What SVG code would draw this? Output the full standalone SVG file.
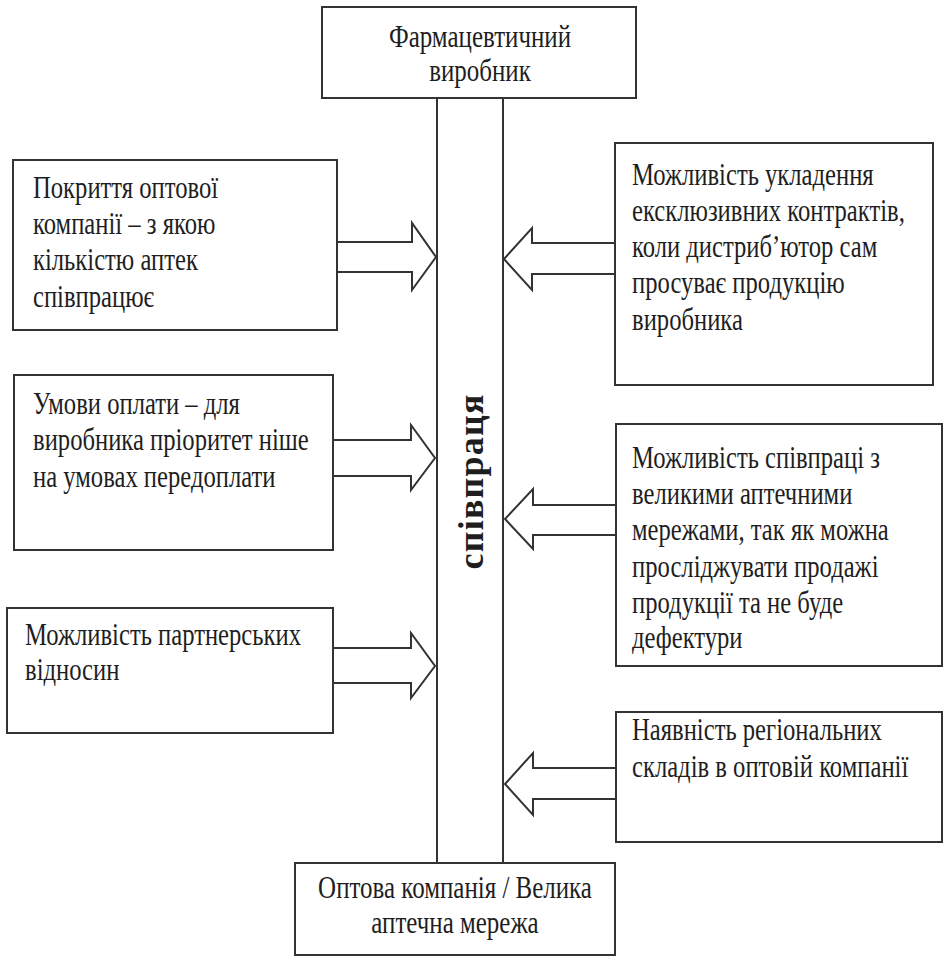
<svg xmlns="http://www.w3.org/2000/svg" width="945" height="957" viewBox="0 0 945 957">
<style>
.box{fill:#fff;stroke:#333;stroke-width:2}
.ln{fill:none;stroke:#333;stroke-width:2}
.arr{fill:#fff;stroke:#333;stroke-width:2;stroke-linejoin:miter}
.t{font-family:"Liberation Serif","Times New Roman",serif;font-size:32px;fill:#1e1e1e}
.c{text-anchor:middle}
.v{font-family:"Liberation Serif","Times New Roman",serif;font-size:36px;font-weight:bold;fill:#1e1e1e;text-anchor:middle}
</style>
<rect width="945" height="957" fill="#fff"/>
<g id="connectors">
<line class="ln" x1="437" y1="98" x2="437" y2="863"/>
<line class="ln" x1="503" y1="98" x2="503" y2="863"/>
<polygon class="arr" points="333,242 412,242 412,223 436,257 412,290 412,272 333,272"/>
<polygon class="arr" points="333,440 411,440 411,425 435,458 411,490 411,476 333,476"/>
<polygon class="arr" points="333,648 411,648 411,633 435,666 411,698 411,683 333,683"/>
<polygon class="arr" points="615,243 532,243 532,228 504,259 532,290 532,274 615,274"/>
<polygon class="arr" points="616,505 533,505 533,489 505,519 533,549 533,535 616,535"/>
<polygon class="arr" points="616,768 533,768 533,753 505,784 533,815 533,799 616,799"/>
<text class="v" transform="translate(483,482) rotate(-90)" textLength="175" lengthAdjust="spacing">співпраця</text>
</g>
<g id="top">
<rect class="box" x="322" y="7" width="314" height="91"/>
<text class="t c" transform="matrix(0.78 0 0 1 480 0)"><tspan x="0" y="47">Фармацевтичний</tspan><tspan x="0" y="81">виробник</tspan></text>
</g>
<g id="bottom">
<rect class="box" x="295" y="863" width="320" height="92"/>
<text class="t c" transform="matrix(0.78 0 0 1 455 0)"><tspan x="0" y="898">Оптова компанія / Велика</tspan><tspan x="0" y="933">аптечна мережа</tspan></text>
</g>
<g id="left1">
<rect class="box" x="13" y="160" width="324" height="170"/>
<text class="t" transform="matrix(0.77 0 0 1 33 0)"><tspan x="0" y="198">Покриття оптової</tspan><tspan x="0" y="234">компанії – з якою</tspan><tspan x="0" y="270">кількістю аптек</tspan><tspan x="0" y="307">співпрацює</tspan></text>
</g>
<g id="left2">
<rect class="box" x="14" y="375" width="319" height="175"/>
<text class="t" transform="matrix(0.77 0 0 1 33 0)"><tspan x="0" y="414">Умови оплати – для</tspan><tspan x="0" y="450">виробника пріоритет ніше</tspan><tspan x="0" y="487">на умовах передоплати</tspan></text>
</g>
<g id="left3">
<rect class="box" x="7" y="608" width="326" height="125"/>
<text class="t" transform="matrix(0.77 0 0 1 25 0)"><tspan x="0" y="645">Можливість партнерських</tspan><tspan x="0" y="680">відносин</tspan></text>
</g>
<g id="right1">
<rect class="box" x="615" y="143" width="318" height="242"/>
<text class="t" transform="matrix(0.77 0 0 1 632 0)"><tspan x="0" y="185">Можливість укладення</tspan><tspan x="0" y="221">ексклюзивних контрактів,</tspan><tspan x="0" y="257">коли дистриб’ютор сам</tspan><tspan x="0" y="293">просуває продукцію</tspan><tspan x="0" y="330">виробника</tspan></text>
</g>
<g id="right2">
<rect class="box" x="616" y="424" width="326" height="242"/>
<text class="t" transform="matrix(0.77 0 0 1 632 0)"><tspan x="0" y="468">Можливість співпраці з</tspan><tspan x="0" y="504">великими аптечними</tspan><tspan x="0" y="540">мережами, так як можна</tspan><tspan x="0" y="577">просліджувати продажі</tspan><tspan x="0" y="613">продукції та не буде</tspan><tspan x="0" y="648">дефектури</tspan></text>
</g>
<g id="right3">
<rect class="box" x="616" y="712" width="326" height="130"/>
<text class="t" transform="matrix(0.77 0 0 1 632 0)"><tspan x="0" y="740">Наявність регіональних</tspan><tspan x="0" y="777">складів в оптовій компанії</tspan></text>
</g>
</svg>
